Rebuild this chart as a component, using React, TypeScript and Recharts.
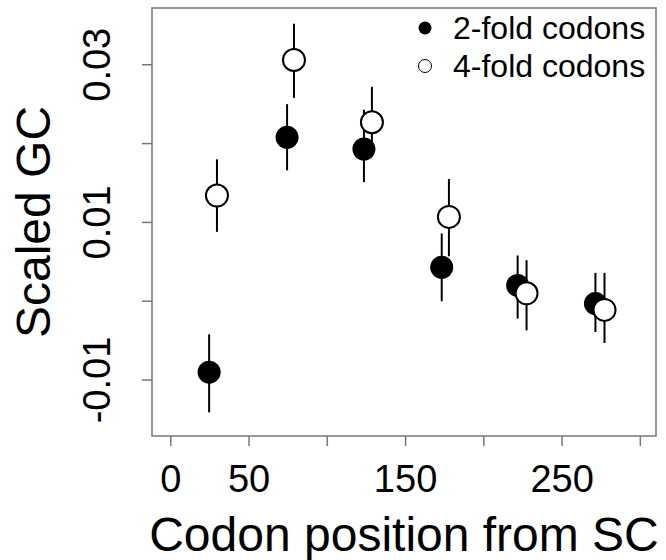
import React from "react";
import {
  ScatterChart,
  Scatter,
  XAxis,
  YAxis,
  ErrorBar,
  Legend,
  ReferenceArea,
  Label,
} from "recharts";

const FONT = "'Liberation Sans', Arial, sans-serif";
const BOX = "#777";

// Codon position (x) and scaled GC (y) with upper / lower error limits
const twoFoldPos = [24.5, 74.3, 123.4, 173.1, 221.6, 271.3];
const twoFoldGC = [-0.009, 0.0208, 0.0193, 0.0043, 0.002, -0.0003];
const twoFoldUpper = [-0.0042, 0.025, 0.0243, 0.0086, 0.0058, 0.0036];
const twoFoldLower = [-0.0141, 0.0166, 0.0151, 0.0, -0.0022, -0.0039];

const fourFoldPos = [29.5, 78.7, 128.5, 177.7, 227.3, 277.1];
const fourFoldGC = [0.0134, 0.0306, 0.0227, 0.0107, 0.001, -0.0011];
const fourFoldUpper = [0.018, 0.0352, 0.0272, 0.0155, 0.0052, 0.0036];
const fourFoldLower = [0.0088, 0.0258, 0.0185, 0.0057, -0.0037, -0.0053];

const seriesNames = ["2-fold codons", "4-fold codons"];

const xTicks = [0, 50, 100, 150, 200, 250, 300];
const xTickLabels = ["0", "50", "", "150", "", "250", ""];
const yTicks = [-0.01, 0, 0.01, 0.02, 0.03];
const yTickLabels = ["-0.01", "", "0.01", "", "0.03"];
const xDomain = [-12, 310];
const yDomain = [-0.0171, 0.0372];

const toPoints = (xs: number[], ys: number[], up: number[], lo: number[]) =>
  xs.map((x, i) => ({ x, y: ys[i], err: [ys[i] - lo[i], up[i] - ys[i]] }));

const twoFold = toPoints(twoFoldPos, twoFoldGC, twoFoldUpper, twoFoldLower);
const fourFold = toPoints(fourFoldPos, fourFoldGC, fourFoldUpper, fourFoldLower);

const XTick = (props: any) => {
  const { x, y, payload } = props;
  const label = xTickLabels[xTicks.indexOf(payload.value)];
  return (
    <text x={x} y={y + 46} textAnchor="middle" fontSize={38} fontFamily={FONT} fill="#000">
      {label}
    </text>
  );
};

const YTick = (props: any) => {
  const { x, y, payload } = props;
  const label = yTickLabels[yTicks.indexOf(payload.value)];
  return (
    <text
      transform={`translate(${x - 32}, ${y}) rotate(-90)`}
      textAnchor="middle"
      fontSize={38}
      fontFamily={FONT}
      fill="#000"
    >
      {label}
    </text>
  );
};

const FilledDot = (props: any) => <circle cx={props.cx} cy={props.cy} r={11.5} fill="#000" />;
const OpenDot = (props: any) => (
  <circle cx={props.cx} cy={props.cy} r={11} fill="#fff" stroke="#000" strokeWidth={2} />
);

const renderLegend = () => (
  <div style={{ fontFamily: FONT, fontSize: 32, color: "#000" }}>
    {seriesNames.map((name, i) => (
      <div key={name} style={{ display: "flex", alignItems: "center", height: 38 }}>
        <svg width={24} height={24} style={{ marginRight: 16 }}>
          <circle
            cx={12}
            cy={12}
            r={6.5}
            fill={i === 0 ? "#000" : "#fff"}
            stroke="#000"
            strokeWidth={i === 0 ? 0 : 1}
          />
        </svg>
        <span>{name}</span>
      </div>
    ))}
  </div>
);

export default function App() {
  return (
    <div style={{ position: "absolute", left: 0, top: 0 }}>
      <ScatterChart width={666} height={560} margin={{ top: 8, right: 10, bottom: 0, left: 0 }}>
        <XAxis
          type="number"
          dataKey="x"
          domain={xDomain}
          ticks={xTicks}
          allowDataOverflow
          height={124}
          axisLine={false}
          tickSize={10}
          tickMargin={0}
          tickLine={{ stroke: BOX, strokeWidth: 1.5 }}
          tick={<XTick />}
          interval={0}
        >
          <Label
            content={(p: any) => (
              <text
                x={p.viewBox.x + p.viewBox.width / 2}
                y={551}
                textAnchor="middle"
                fontSize={48}
                fontFamily={FONT}
                fill="#000"
              >
                Codon position from SC
              </text>
            )}
          />
        </XAxis>
        <YAxis
          type="number"
          dataKey="y"
          domain={yDomain}
          ticks={yTicks}
          allowDataOverflow
          width={152}
          axisLine={false}
          tickSize={10}
          tickMargin={0}
          tickLine={{ stroke: BOX, strokeWidth: 1.5 }}
          tick={<YTick />}
          interval={0}
        >
          <Label
            content={(p: any) => (
              <text
                transform={`translate(50, ${p.viewBox.y + p.viewBox.height / 2}) rotate(-90)`}
                textAnchor="middle"
                fontSize={48}
                fontFamily={FONT}
                fill="#000"
              >
                Scaled GC
              </text>
            )}
          />
        </YAxis>
        <ReferenceArea
          x1={xDomain[0]}
          x2={xDomain[1]}
          y1={yDomain[0]}
          y2={yDomain[1]}
          fill="none"
          stroke={BOX}
          strokeWidth={1.5}
        />
        <Legend
          content={renderLegend}
          layout="vertical"
          align="center"
          verticalAlign="middle"
          wrapperStyle={{ left: 413, top: 9, width: 260 }}
        />
        <Scatter name={seriesNames[0]} data={twoFold} shape={FilledDot} isAnimationActive={false}>
          <ErrorBar dataKey="err" direction="y" width={0} stroke="#000" strokeWidth={2} isAnimationActive={false} />
        </Scatter>
        <Scatter name={seriesNames[1]} data={fourFold} shape={OpenDot} isAnimationActive={false}>
          <ErrorBar dataKey="err" direction="y" width={0} stroke="#000" strokeWidth={2} isAnimationActive={false} />
        </Scatter>
      </ScatterChart>
    </div>
  );
}
